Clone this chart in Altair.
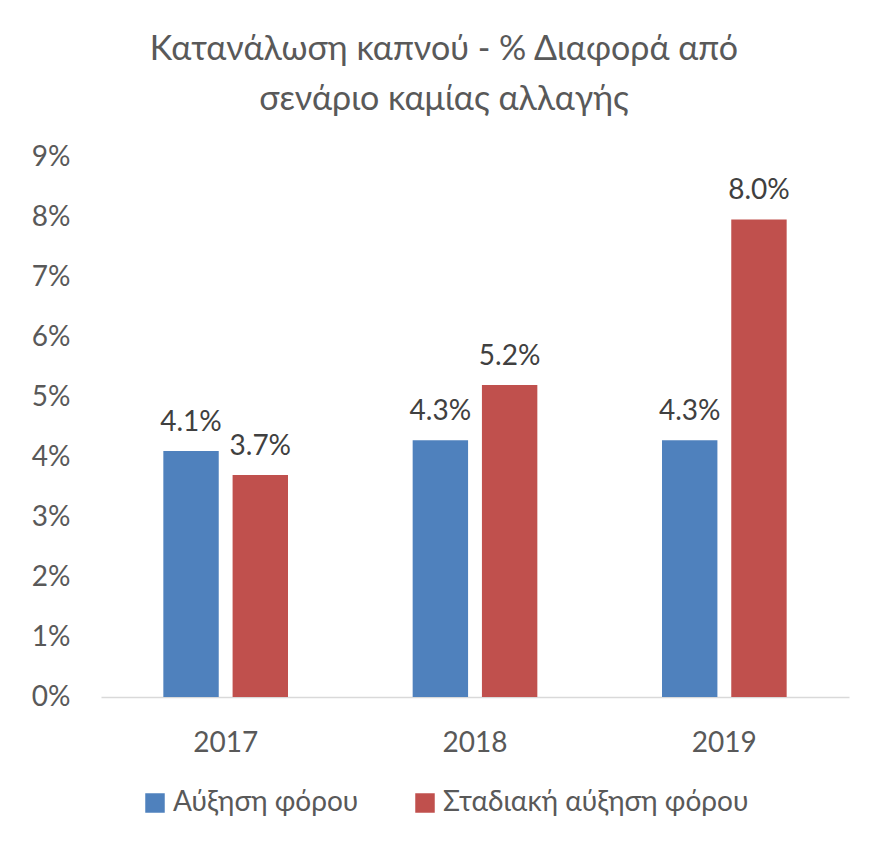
import altair as alt
import pandas as pd

years = ["2017", "2018", "2019"]
series = ["Αύξηση φόρου", "Σταδιακή αύξηση φόρου"]
vals_a = [0.041, 0.0428, 0.0428]
vals_b = [0.037, 0.052, 0.0796]
y_ticks = [0, 0.01, 0.02, 0.03, 0.04, 0.05, 0.06, 0.07, 0.08, 0.09]
colors = ["#4F81BD", "#C0504D"]

rows = []
for i, y in enumerate(years):
    rows.append({"year": y, "series": series[0], "value": vals_a[i]})
    rows.append({"year": y, "series": series[1], "value": vals_b[i]})
df = pd.DataFrame(rows)

FONT = "Lato"

x = alt.X("year:N", title=None, sort=years,
          scale=alt.Scale(paddingInner=0.5, paddingOuter=0.25),
          axis=alt.Axis(labelAngle=0, ticks=False, domainColor="#D9D9D9", domainWidth=1.5,
                        labelFontSize=28, labelColor="#595959", labelFont=FONT, labelPadding=32))
xo = alt.XOffset("series:N", sort=series, scale=alt.Scale(paddingInner=0.2, paddingOuter=0))
y = alt.Y("value:Q", title=None,
          scale=alt.Scale(domain=[0, 0.09], nice=False),
          axis=alt.Axis(values=y_ticks, format=".0%", grid=False, domain=False, ticks=False,
                        labelFontSize=28, labelColor="#595959", labelFont=FONT, labelPadding=31))

bars = alt.Chart(df).mark_bar().encode(
    x=x, xOffset=xo, y=y,
    color=alt.Color("series:N", sort=series,
                    scale=alt.Scale(domain=series, range=colors),
                    legend=alt.Legend(title=None, orient="none", direction="horizontal",
                                      legendX=40, legendY=632, symbolType="square",
                                      symbolSize=380, symbolStrokeWidth=0, labelFontSize=28,
                                      labelColor="#595959", labelFont=FONT, columnPadding=52,
                                      labelOffset=4, labelLimit=0)),
)

labels = alt.Chart(df).mark_text(baseline="bottom", dy=-14, fontSize=28, color="#404040", font=FONT).encode(
    x=x, xOffset=xo, y=y,
    text=alt.Text("value:Q", format=".1%"),
)

chart = (bars + labels).properties(
    width=748, height=540,
    title=alt.TitleParams(["Κατανάλωση καπνού - % Διαφορά από", "σενάριο καμίας αλλαγής"],
                          fontSize=34, font=FONT, fontWeight="normal", color="#595959",
                          anchor="middle", offset=26, dx=-31, lineHeight=50),
    autosize=alt.AutoSizeParams(type="none"),
    padding={"left": 93, "top": 149, "right": 20, "bottom": 140},
).configure_view(stroke=None)

chart.save("out.html", embed_options={"renderer": "svg", "actions": False})
